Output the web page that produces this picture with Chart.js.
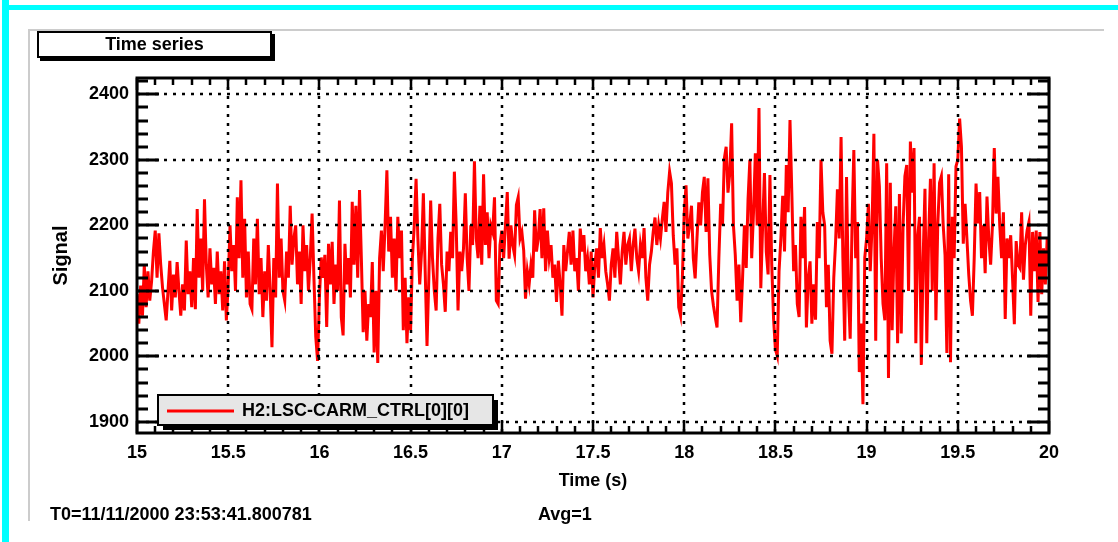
<!DOCTYPE html>
<html>
<head>
<meta charset="utf-8">
<script src="https://cdn.jsdelivr.net/npm/chart.js"></script>
<style>
  html, body { margin: 0; padding: 0; background: #fff; }
  #page { position: relative; width: 1118px; height: 542px; overflow: hidden;
          font-family: "Liberation Sans", Arial, Helvetica, sans-serif; font-weight: bold; }
  #plot { position: absolute; left: 0; top: 0; }
  .cyan { position: absolute; background: #00ffff; }
  .pad-line { position: absolute; background: #cccccc; }
  #titleBox { position: absolute; left: 37px; top: 31px; width: 231px; height: 23px;
              border: 2px solid #000; background: #fff; box-shadow: 3px 3px 0 #000;
              font-size: 18px; line-height: 23px; text-align: center; }
  .note { position: absolute; font-size: 18px; line-height: 20px; white-space: nowrap; }
</style>
</head>
<body>
<div id="page">
  <div class="cyan" style="left:2px; top:0; width:7px; height:542px;"></div>
  <div class="cyan" style="left:2px; top:5px; width:1116px; height:5px;"></div>
  <div class="pad-line" style="left:28px; top:29px; width:1076px; height:2px;"></div>
  <div class="pad-line" style="left:28px; top:29px; width:2px; height:492px;"></div>
  <canvas id="plot" width="1118" height="542"></canvas>
  <div id="titleBox">Time series</div>
  <div class="note" style="left:50px; top:504px;">T0=11/11/2000 23:53:41.800781</div>
  <div class="note" style="left:538px; top:504px;">Avg=1</div>
</div>
<script>
// samples every 10 ms
let startTime = 15;
let sampleStep = 0.01;
let signalValues = [
  2095, 2050, 2108, 2062, 2140, 2075, 2130, 2085, 2115, 2160, 2192, 2120, 2188, 2140, 2105, 2080, 2055, 2100, 2146, 2070, 2125, 2090, 2144, 2100, 2062,
  2110, 2070, 2177, 2095, 2130, 2075, 2150, 2072, 2225, 2120, 2180, 2100, 2240, 2140, 2090, 2165, 2110, 2135, 2080, 2160, 2095, 2130, 2070, 2145, 2055,
  2110, 2200, 2130, 2170, 2100, 2243, 2150, 2269, 2120, 2210, 2090, 2160, 2080, 2072, 2180, 2110, 2210, 2095, 2150, 2060, 2130, 2085, 2170, 2100, 2014,
  2150, 2090, 2264, 2120, 2180, 2100, 2085, 2160, 2120, 2230, 2140, 2180, 2200, 2110, 2160, 2080, 2200, 2130, 2170, 2100, 2150, 2218, 2120, 2030, 1993,
  2090, 2151, 2120, 2155, 2045, 2172, 2110, 2175, 2080, 2140, 2100, 2238, 2060, 2032, 2172, 2110, 2150, 2090, 2236, 2140, 2230, 2120, 2254, 2150, 2037,
  2100, 2024, 2080, 2060, 2144, 2006, 2100, 1990, 2150, 2192, 2130, 2200, 2284, 2160, 2213, 2120, 2180, 2100, 2213, 2150, 2192, 2040, 2120, 2020, 2090,
  2040, 2150, 2200, 2271, 2180, 2110, 2160, 2249, 2130, 2016, 2120, 2238, 2150, 2100, 2070, 2180, 2233, 2140, 2110, 2068, 2160, 2130, 2190, 2150, 2282,
  2200, 2070, 2160, 2130, 2165, 2249, 2150, 2100, 2200, 2170, 2298, 2180, 2150, 2230, 2140, 2278, 2170, 2220, 2150, 2200, 2190, 2243, 2085, 2080, 2170,
  2192, 2150, 2200, 2251, 2149, 2200, 2170, 2155, 2231, 2243, 2180, 2190, 2162, 2088, 2130, 2110, 2140, 2120, 2223, 2160, 2180, 2225, 2150, 2226, 2130,
  2192, 2150, 2170, 2120, 2140, 2083, 2146, 2110, 2062, 2170, 2130, 2160, 2190, 2140, 2192, 2130, 2150, 2100, 2195, 2160, 2185, 2130, 2150, 2110, 2160,
  2090, 2140, 2165, 2120, 2196, 2150, 2170, 2130, 2110, 2085, 2140, 2165, 2120, 2190, 2150, 2110, 2160, 2190, 2140, 2170, 2180, 2130, 2170, 2195, 2150,
  2130, 2170, 2150, 2196, 2120, 2085, 2140, 2160, 2190, 2212, 2170, 2200, 2180, 2210, 2236, 2190, 2250, 2282, 2264, 2185, 2140, 2165, 2075, 2062, 2120,
  2218, 2261, 2180, 2200, 2230, 2150, 2119, 2180, 2235, 2200, 2250, 2274, 2190, 2272, 2155, 2100, 2078, 2060, 2044, 2150, 2233, 2200, 2302, 2320, 2250,
  2280, 2356, 2200, 2155, 2085, 2140, 2052, 2120, 2200, 2135, 2240, 2300, 2150, 2220, 2310, 2200, 2379, 2104, 2200, 2280, 2160, 2125, 2277, 2140, 2057,
  2011, 2001, 2130, 2180, 2245, 2160, 2292, 2220, 2361, 2250, 2130, 2170, 2080, 2060, 2213, 2150, 2228, 2044, 2120, 2145, 2050, 2110, 2056, 2205, 2150,
  2300, 2220, 2200, 2075, 2140, 2024, 2004, 2120, 2175, 2255, 2180, 2335, 2150, 2024, 2274, 2100, 2027, 2200, 2315, 2150, 2205, 1976, 2050, 1927, 2151,
  2180, 2233, 2130, 2200, 2340, 2024, 2300, 2260, 2150, 2080, 2055, 2295, 1967, 2265, 2040, 2160, 2229, 2020, 2248, 2035, 2200, 2275, 2292, 2100, 2328,
  2250, 2318, 2020, 2183, 2213, 1987, 2150, 2256, 2020, 2180, 2271, 2100, 2295, 2055, 2200, 2265, 2275, 2200, 2155, 2005, 2278, 1991, 2213, 2150, 2290,
  2300, 2363, 2320, 2172, 2233, 2180, 2125, 2085, 2062, 2150, 2264, 2203, 2251, 2150, 2200, 2127, 2244, 2180, 2140, 2200, 2318, 2218, 2274, 2200, 2150,
  2220, 2057, 2180, 2150, 2185, 2120, 2049, 2176, 2140, 2135, 2220, 2117, 2170, 2192, 2205, 2062, 2190, 2130, 2192, 2083, 2190, 2095, 2165, 2110, 2180,
  2140
];
let xTickValues = [15, 15.5, 16, 16.5, 17, 17.5, 18, 18.5, 19, 19.5, 20];
let yTickValues = [1900, 2000, 2100, 2200, 2300, 2400];
let seriesName = "H2:LSC-CARM_CTRL[0][0]";

let points = signalValues.map((v, i) => ({ x: startTime + i * sampleStep, y: v }));
let labelFont = { family: "'Liberation Sans', Arial, Helvetica, sans-serif", size: 18, weight: "bold" };

// ROOT style frame: dotted grid, inner ticks on all four sides, thick border
const frameAndGrid = {
  id: "frameAndGrid",
  afterDatasetsDraw(chart) {
    const ctx = chart.ctx;
    const a = chart.chartArea;
    const xs = chart.scales.x;
    const ys = chart.scales.y;
    ctx.save();
    ctx.strokeStyle = "#000";
    ctx.lineWidth = 2.5;
    ctx.setLineDash([3, 6]);
    for (let v of yTickValues) {
      let py = Math.round(ys.getPixelForValue(v));
      ctx.beginPath();
      ctx.moveTo(a.left, py);
      ctx.lineTo(a.right, py);
      ctx.stroke();
    }
    for (let t of xTickValues) {
      if (t == xs.min || t == xs.max) continue;
      let px = Math.round(xs.getPixelForValue(t));
      ctx.beginPath();
      ctx.moveTo(px, a.top);
      ctx.lineTo(px, a.bottom);
      ctx.stroke();
    }
    ctx.setLineDash([]);

    // y ticks, major every 100, minor every 20
    ctx.lineWidth = 3;
    for (let v = 1900; v <= ys.max; v += 20) {
      let py = Math.round(ys.getPixelForValue(v));
      let len = (v % 100 == 0) ? 22 : 11;
      ctx.beginPath();
      ctx.moveTo(a.left, py);
      ctx.lineTo(a.left + len, py);
      ctx.moveTo(a.right, py);
      ctx.lineTo(a.right - len, py);
      ctx.stroke();
    }
    // x ticks, major every 0.5, minor every 0.1
    ctx.lineWidth = 2.5;
    for (let k = 0; k <= 50; k++) {
      let px = Math.round(xs.getPixelForValue(15 + k * 0.1));
      let len = (k % 5 == 0) ? 12 : 7;
      ctx.beginPath();
      ctx.moveTo(px, a.top);
      ctx.lineTo(px, a.top + len);
      ctx.moveTo(px, a.bottom);
      ctx.lineTo(px, a.bottom - len);
      ctx.stroke();
    }

    ctx.lineWidth = 3;
    ctx.strokeRect(a.left, a.top, a.right - a.left, a.bottom - a.top);
    ctx.restore();
  },
  afterDraw(chart) {
    // legend box in the lower left of the frame
    const ctx = chart.ctx;
    const ds = chart.data.datasets[0];
    let bx = 158, by = 395, bw = 335, bh = 30;
    ctx.save();
    ctx.fillStyle = "#000";
    ctx.fillRect(bx + 5, by + 5, bw, bh);
    ctx.fillStyle = "#e6e6e6";
    ctx.fillRect(bx, by, bw, bh);
    ctx.strokeStyle = "#000";
    ctx.lineWidth = 2;
    ctx.strokeRect(bx, by, bw, bh);
    ctx.strokeStyle = ds.borderColor;
    ctx.lineWidth = 3;
    ctx.beginPath();
    ctx.moveTo(bx + 9, by + 16);
    ctx.lineTo(bx + 76, by + 16);
    ctx.stroke();
    ctx.fillStyle = "#000";
    ctx.font = "bold 18px 'Liberation Sans', Arial, Helvetica, sans-serif";
    ctx.textBaseline = "middle";
    ctx.fillText(ds.label, bx + 84, by + 16);
    ctx.restore();
  }
};

new Chart(document.getElementById("plot"), {
  type: "line",
  data: {
    datasets: [
      {
        label: seriesName,
        data: points,
        borderColor: "rgb(255, 0, 0)",
        borderWidth: 3,
        pointRadius: 0,
        tension: 0,
      },
    ],
  },
  options: {
    responsive: false,
    animation: false,
    devicePixelRatio: 1,
    layout: { padding: { left: 0, top: 78, right: 69, bottom: 0 } },
    plugins: { legend: { display: false }, tooltip: { enabled: false } },
    scales: {
      x: {
        type: "linear",
        min: 15,
        max: 20,
        afterBuildTicks: (scale) => { scale.ticks = xTickValues.map((v) => ({ value: v })); },
        afterFit: (scale) => { scale.height = 109; },
        grid: { display: false, drawTicks: false },
        border: { display: false },
        ticks: { font: labelFont, color: "#000", padding: 9, autoSkip: false, maxRotation: 0,
                 callback: (v) => String(v) },
        title: { display: true, text: "Time (s)", font: labelFont, color: "#000", padding: { top: 0, bottom: 50 } },
      },
      y: {
        type: "linear",
        min: 1883,
        max: 2425,
        afterBuildTicks: (scale) => { scale.ticks = yTickValues.map((v) => ({ value: v })); },
        afterFit: (scale) => { scale.width = 137; },
        grid: { display: false, drawTicks: false },
        border: { display: false },
        ticks: { font: labelFont, color: "#000", padding: 8, callback: (v) => String(v) },
        title: { display: true, text: "Signal", font: { family: labelFont.family, size: 20, weight: "bold" }, color: "#000", padding: { top: 49, bottom: 0 } },
      },
    },
  },
  plugins: [frameAndGrid],
});
</script>
</body>
</html>
